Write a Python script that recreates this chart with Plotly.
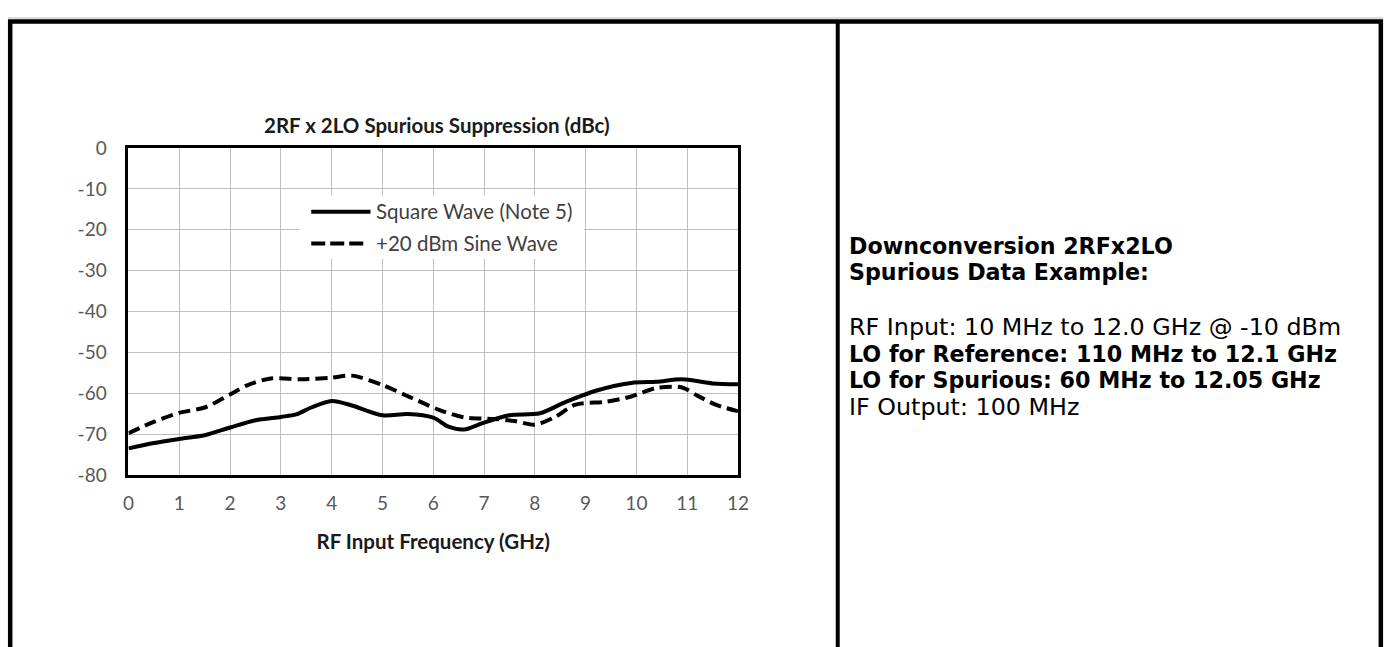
import plotly.graph_objects as go

W, H = 1394, 647

# ---- data ----
freq_square = [0, 0.5, 1.0, 1.5, 2.0, 2.5, 3.0, 3.3, 3.6, 4.0, 4.4, 5.0, 5.5, 6.0, 6.3, 6.6,
               7.0, 7.5, 8.1, 8.6, 9.2, 9.9, 10.4, 10.9, 11.5, 12.0]
supp_square = [-73.5, -72.2, -71.2, -70.3, -68.4, -66.6, -65.8, -65.2, -63.5, -61.9, -63.0,
               -65.4, -65.1, -66.0, -68.2, -68.9, -67.2, -65.4, -64.9, -62.2, -59.4, -57.5,
               -57.2, -56.6, -57.6, -57.8]

freq_sine = [0, 0.5, 1.0, 1.5, 2.0, 2.35, 2.8, 3.4, 4.0, 4.4, 5.0, 5.6, 6.1, 6.6, 7.2, 7.6,
             8.0, 8.4, 8.8, 9.4, 9.9, 10.4, 10.9, 11.2, 11.6, 12.0]
supp_sine = [-69.8, -67.0, -64.8, -63.5, -60.3, -58.0, -56.4, -56.6, -56.2, -55.7, -58.0,
             -61.3, -64.0, -65.9, -66.3, -66.8, -67.7, -65.8, -62.8, -62.1, -60.8, -58.7,
             -58.6, -60.6, -63.0, -64.4]

series_names = ["Square Wave (Note 5)", "+20 dBm Sine Wave"]
x_ticks = list(range(0, 13))
y_ticks = list(range(-80, 1, 10))

chart_title = "2RF x 2LO Spurious Suppression (dBc)"
x_title = "RF Input Frequency (GHz)"
side_lines = [
    ("Downconversion 2RFx2LO", True),
    ("Spurious Data Example:", True),
    ("RF Input: 10 MHz to 12.0 GHz @ -10 dBm", False),
    ("LO for Reference: 110 MHz to 12.1 GHz", True),
    ("LO for Spurious: 60 MHz to 12.05 GHz", True),
    ("IF Output: 100 MHz", False),
]


def px(x):
    return x / W


def py(y):
    return 1 - y / H


PL, PR, PT, PB = 124, 741, 141, 480
CH_FONT = "Lato"
TXT_FONT = "DejaVu Sans"
CH_SIZE = 20.5

fig = go.Figure()
fig.add_trace(go.Scatter(x=freq_square, y=supp_square, name=series_names[0], mode="lines",
                         line=dict(color="black", width=4, shape="spline", smoothing=0.8)))
fig.add_trace(go.Scatter(x=freq_sine, y=supp_sine, name=series_names[1], mode="lines",
                         line=dict(color="black", width=4, dash="12px,6px", shape="spline",
                                   smoothing=0.8)))

shapes = []
# faint line above the frame
shapes.append(dict(type="line", xref="paper", yref="paper", x0=px(2), x1=px(1394),
                   y0=py(6.2), y1=py(6.2), line=dict(color="#b8b8b8", width=1.2)))
# outer frame
shapes.append(dict(type="rect", xref="paper", yref="paper", x0=px(4.25), x1=px(1391.8),
                   y0=py(700), y1=py(9.8), line=dict(color="black", width=4.5),
                   fillcolor="rgba(0,0,0,0)"))
shapes.append(dict(type="line", xref="paper", yref="paper", x0=px(842), x1=px(842),
                   y0=py(9.8), y1=py(700), line=dict(color="black", width=4)))
# legend box
shapes.append(dict(type="rect", xref="paper", yref="paper", x0=px(297), x1=px(585),
                   y0=py(256), y1=py(190), line=dict(width=0), fillcolor="white",
                   layer="above"))
shapes.append(dict(type="line", xref="paper", yref="paper", x0=px(309), x1=px(369),
                   y0=py(207), y1=py(207), line=dict(color="black", width=4), layer="above"))
shapes.append(dict(type="line", xref="paper", yref="paper", x0=px(309), x1=px(362),
                   y0=py(240), y1=py(240), line=dict(color="black", width=4, dash="14px,5px"),
                   layer="above"))

annotations = []
annotations.append(dict(text=f"<b>{chart_title}</b>", xref="paper", yref="paper",
                        x=px(436), y=py(117), showarrow=False, xanchor="center",
                        yanchor="middle", font=dict(family=CH_FONT, size=CH_SIZE, color="#1a1a1a")))
annotations.append(dict(text=series_names[0], xref="paper", yref="paper", x=px(373),
                        y=py(206), showarrow=False, xanchor="left", yanchor="middle",
                        font=dict(family=CH_FONT, size=CH_SIZE, color="#404040")))
annotations.append(dict(text=series_names[1], xref="paper", yref="paper", x=px(373),
                        y=py(239), showarrow=False, xanchor="left", yanchor="middle",
                        font=dict(family=CH_FONT, size=CH_SIZE, color="#404040")))
line_y = [242.5, 270, 327, 354.5, 382, 409.5]
for (txt, bold), yy in zip(side_lines, line_y):
    annotations.append(dict(text=f"<b>{txt}</b>" if bold else txt, xref="paper", yref="paper",
                            x=px(851), y=py(yy), showarrow=False, xanchor="left",
                            yanchor="middle",
                            font=dict(family=TXT_FONT, size=22.2 if bold else 23.8,
                                      color="black")))

fig.update_layout(
    width=W, height=H,
    margin=dict(l=0, r=0, t=0, b=0),
    paper_bgcolor="white", plot_bgcolor="white",
    showlegend=False,
    shapes=shapes,
    annotations=annotations,
    xaxis=dict(domain=[px(PL), px(PR)], range=[0, 12], tickvals=x_ticks,
               ticktext=[str(v) for v in x_ticks],
               showgrid=True, gridcolor="#bfbfbf", gridwidth=1,
               showline=True, mirror=True, linecolor="black", linewidth=3,
               zeroline=False, ticks="", ticklabelstandoff=9,
               tickfont=dict(family=CH_FONT, size=19, color="#595959"),
               title=dict(text=f"<b>{x_title}</b>", standoff=22,
                          font=dict(family=CH_FONT, size=CH_SIZE, color="#1a1a1a"))),
    yaxis=dict(domain=[py(PB), py(PT)], range=[-80, 0], tickvals=y_ticks,
               ticktext=[str(v) for v in y_ticks],
               showgrid=True, gridcolor="#bfbfbf", gridwidth=1,
               showline=True, mirror=True, linecolor="black", linewidth=3,
               zeroline=False, ticks="", ticklabelstandoff=15,
               tickfont=dict(family=CH_FONT, size=19, color="#595959")),
)

fig.write_html(
    "out.html",
    config={"displayModeBar": False},
    post_script="document.body.style.margin='0px';document.body.style.padding='0px';"
                "document.documentElement.style.overflow='hidden';",
)
